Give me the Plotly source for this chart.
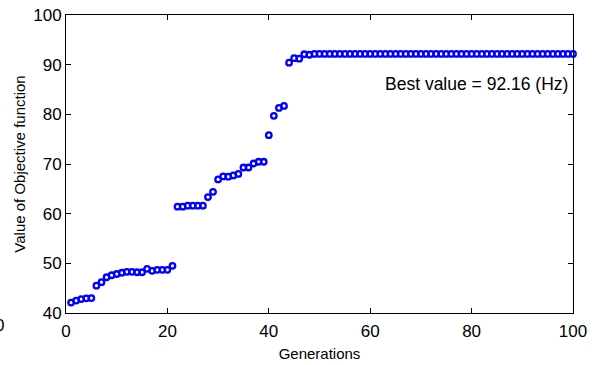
import plotly.graph_objects as go

generations = list(range(1, 101))
best_values = [
    42.1, 42.5, 42.8, 42.95, 43.0, 45.5, 46.2, 47.2, 47.6, 47.85,
    48.1, 48.3, 48.3, 48.2, 48.2, 48.9, 48.5, 48.7, 48.7, 48.7,
    49.5, 61.4, 61.4, 61.6, 61.6, 61.6, 61.6, 63.35, 64.4, 66.9,
    67.5, 67.45, 67.7, 68.0, 69.3, 69.3, 70.1, 70.45, 70.45, 75.8,
    79.7, 81.3, 81.7, 90.4, 91.3, 91.2, 92.1, 92.0, 92.16,
] + [92.16] * 51

x_ticks = [0, 20, 40, 60, 80, 100]
y_ticks = [40, 50, 60, 70, 80, 90, 100]

FONT = "Liberation Sans, Arial, sans-serif"

fig = go.Figure()
fig.add_trace(go.Scatter(
    x=generations, y=best_values, mode="markers",
    marker=dict(symbol="circle-open", size=5.5, color="#0000FF",
                line=dict(width=2.3, color="#0000FF")),
    showlegend=False, cliponaxis=False,
))

axis_common = dict(
    showline=True, linecolor="black", linewidth=1, mirror="ticks",
    ticks="inside", ticklen=5, tickwidth=1, tickcolor="black",
    showgrid=False, zeroline=False, automargin=False,
    tickfont=dict(family=FONT, size=17, color="black"),
)

fig.update_xaxes(range=[0, 100], tickvals=x_ticks, ticktext=[str(v) for v in x_ticks],
                 ticklabelstandoff=3,
                 title=dict(text="Generations", font=dict(family=FONT, size=15, color="black"), standoff=8),
                 **axis_common)
fig.update_yaxes(range=[40, 100], tickvals=y_ticks, ticktext=[str(v) for v in y_ticks],
                 title=dict(text="Value of Objective function", font=dict(family=FONT, size=15, color="black"), standoff=3),
                 **axis_common)

fig.add_annotation(x=81, y=86.1, xref="x", yref="y", text="Best value = 92.16 (Hz)",
                   showarrow=False, font=dict(family=FONT, size=17.5, color="black"))
fig.add_annotation(x=-0.131, y=-0.0436, xref="paper", yref="paper", text="0",
                   showarrow=False, xanchor="center", yanchor="middle",
                   font=dict(family=FONT, size=17, color="black"))

fig.update_layout(
    width=598, height=365,
    margin=dict(l=66, r=25, t=15, b=52),
    paper_bgcolor="white", plot_bgcolor="white",
)

fig.write_html("out.html", config={"displayModeBar": False},
               post_script="document.body.style.margin='0';")
